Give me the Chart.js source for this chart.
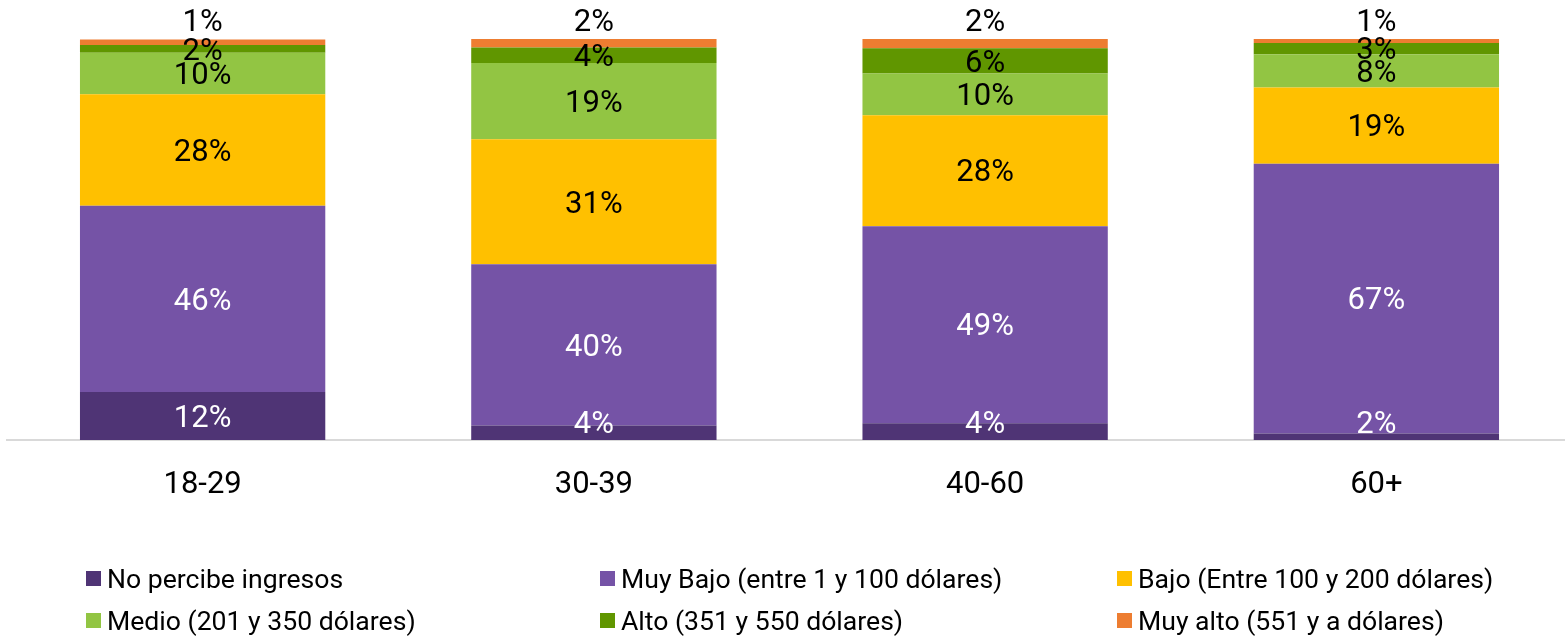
<!DOCTYPE html>
<html>
<head>
<meta charset="utf-8">
<script src="https://cdn.jsdelivr.net/npm/chart.js@4"></script>
<style>
  html, body { margin: 0; padding: 0; background: #fff; overflow: hidden; }
  #wrap { position: relative; width: 1572px; height: 636px; }
  #legend {
    position: absolute; left: 86px; top: 557px;
    display: grid; grid-template-columns: 514px 517px auto;
    grid-auto-rows: 42px;
    font-family: Roboto, sans-serif; font-size: 26.6px; color: #000;
  }
  .item { display: flex; align-items: center; white-space: nowrap; }
  .box { width: 15px; height: 15px; margin-right: 6px; flex: none; }
</style>
</head>
<body>
<div id="wrap">
  <canvas id="chart" width="1572" height="636"></canvas>
  <div id="legend"></div>
</div>
<script>
const categories = ['18-29', '30-39', '40-60', '60+'];

const noIngresos = [12.0, 3.6, 4.2, 1.6];
const muyBajo    = [46.4, 40.2, 49.1, 67.3];
const bajo       = [27.8, 31.2, 27.7, 19.0];
const medio      = [10.4, 19.0, 10.4, 8.3];
const alto       = [1.9, 3.9, 6.3, 2.8];
const muyAlto    = [1.4, 2.1, 2.3, 1.0];

const seriesNames = [
    'No percibe ingresos',
    'Muy Bajo (entre 1 y 100 dólares)',
    'Bajo (Entre 100 y 200 dólares)',
    'Medio (201 y 350 dólares)',
    'Alto (351 y 550 dólares)',
    'Muy alto (551 y a dólares)'
];
const seriesData = [noIngresos, muyBajo, bajo, medio, alto, muyAlto];
const seriesColors = ['#4f3475', '#7553a6', '#ffc000', '#92c543', '#609600', '#ed7d31'];
const labelColors = ['#fff', '#fff', '#000', '#000', '#000', '#000'];

// draws the percent labels inside each segment (top series goes above the bar)
const segmentLabels = {
    id: 'segmentLabels',
    afterDatasetsDraw(chart) {
        const ctx = chart.ctx;
        ctx.save();
        ctx.font = '31px Roboto, sans-serif';
        ctx.textAlign = 'center';
        ctx.textBaseline = 'middle';
        const last = chart.data.datasets.length - 1;
        chart.data.datasets.forEach((ds, i) => {
            const meta = chart.getDatasetMeta(i);
            meta.data.forEach((bar, j) => {
                const txt = Math.round(ds.data[j]) + '%';
                let y;
                if (i === last) y = bar.y - 19;
                else if (i === 0) y = Math.min((bar.y + bar.base) / 2, bar.base - 18);
                else y = (bar.y + bar.base) / 2;
                ctx.fillStyle = labelColors[i];
                ctx.fillText(txt, bar.x, y + 3);
            });
        });
        ctx.restore();
    }
};

const chart = new Chart(document.getElementById('chart'), {
    type: 'bar',
    data: {
        labels: categories,
        datasets: seriesData.map((d, i) => ({
            label: seriesNames[i],
            data: d,
            backgroundColor: seriesColors[i],
            borderWidth: 0,
            categoryPercentage: 1,
            barPercentage: 0.627,
        }))
    },
    options: {
        responsive: false,
        animation: false,
        layout: { padding: { left: 7, right: 0, top: 39, bottom: 0 } },
        plugins: { legend: { display: false }, tooltip: { enabled: false } },
        scales: {
            x: {
                stacked: true,
                grid: { display: false },
                border: { display: true, color: '#d9d9d9', width: 2 },
                ticks: { color: '#000', font: { family: 'Roboto', size: 31 }, padding: 19 },
                afterFit(scale) { scale.height = 196; }
            },
            y: { stacked: true, display: false, min: 0, max: 100 }
        }
    },
    plugins: [segmentLabels]
});

// legend in a fixed 3-column grid
const legendEl = document.getElementById('legend');
chart.data.datasets.forEach((ds, i) => {
    const item = document.createElement('div');
    item.className = 'item';
    const box = document.createElement('span');
    box.className = 'box';
    box.style.background = seriesColors[i];
    const txt = document.createElement('span');
    txt.textContent = ds.label;
    item.appendChild(box);
    item.appendChild(txt);
    legendEl.appendChild(item);
});
</script>
</body>
</html>
